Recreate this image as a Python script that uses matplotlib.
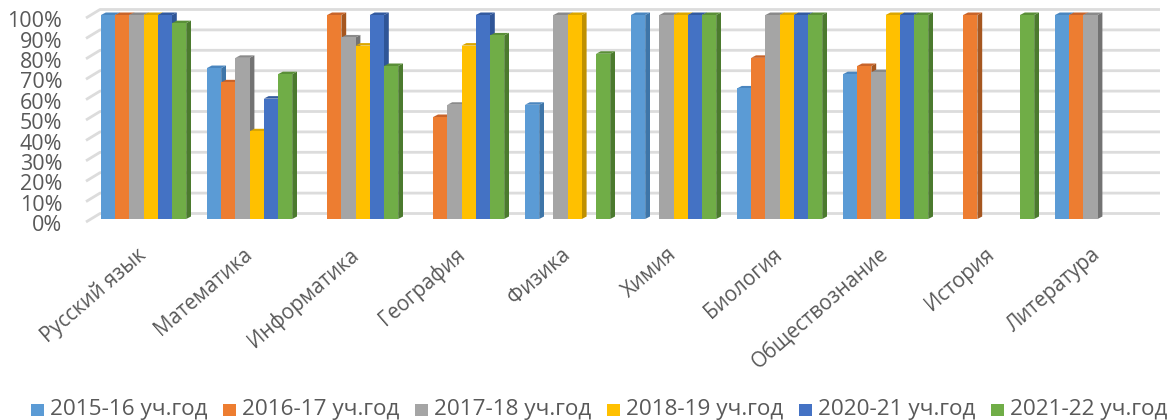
import matplotlib
matplotlib.use("Agg")
import matplotlib.pyplot as plt
from matplotlib.patches import Polygon, Rectangle
from matplotlib.transforms import ScaledTranslation
import numpy as np

categories = ["Русский язык", "Математика", "Информатика", "География", "Физика",
              "Химия", "Биология", "Обществознание", "История", "Литература"]
series_names = ["2015-16 уч.год", "2016-17 уч.год", "2017-18 уч.год",
                "2018-19 уч.год", "2020-21 уч.год", "2021-22 уч.год"]
s2015 = [100, 74, 0, 0, 56, 100, 64, 71, 0, 100]
s2016 = [100, 67, 100, 50, 0, 0, 79, 75, 100, 100]
s2017 = [100, 79, 89, 56, 100, 100, 100, 72, 0, 100]
s2018 = [100, 43, 85, 85, 100, 100, 100, 100, 0, 0]
s2020 = [100, 59, 100, 100, 0, 100, 100, 100, 0, 0]
s2021 = [96, 71, 75, 90, 81, 100, 100, 100, 100, 0]
series = [s2015, s2016, s2017, s2018, s2020, s2021]
colors = ["#5B9BD5", "#ED7D31", "#A5A5A5", "#FFC000", "#4472C4", "#70AD47"]
sides = ["#3E75A8", "#A5561F", "#737373", "#BF9000", "#2F5597", "#4B7A2E"]
tops = ["#4A86BF", "#C8642A", "#8A8A8A", "#DBA600", "#335A9F", "#5A8F38"]
yticks = list(range(0, 101, 10))

W, H = 1169, 420
fig = plt.figure(figsize=(W / 100, H / 100), dpi=100)
plt.rcParams["font.family"] = ["Open Sans", "DejaVu Sans"]
L, R, T, B = 86, 1160, 15, 219
ax = fig.add_axes([L / W, 1 - B / H, (R - L) / W, (B - T) / H])
ax.set_ylim(0, 100)
GROUP = 106.0
BARW = 14.2
x0 = (101 - L) / GROUP
ax.set_xlim(0, (R - L) / GROUP)
ax.patch.set_alpha(0)
for s in ax.spines.values():
    s.set_visible(False)
ax.tick_params(length=0)

px = 1 / GROUP
py = 100 / (B - T)
bw = BARW * px
for v in yticks:
    ax.plot([0, 14 * px, (R - L) * px], [v - 3 * py, v + 5.5 * py, v + 5.5 * py],
            color="#DCDCDC", lw=2.0, clip_on=False, zorder=1, solid_capstyle="butt")

dx, dy = 4.8 * px, 2.5 * py
for i in range(len(categories)):
    for j, vals in enumerate(series):
        v = vals[i]
        if v == 0:
            continue
        x = x0 + i + j * bw
        ax.add_patch(Polygon([(x + bw, 0), (x + bw + dx, dy), (x + bw + dx, v + dy), (x + bw, v)],
                             closed=True, fc=sides[j], ec="none", zorder=2 + j * 0.01, clip_on=False))
        ax.add_patch(Polygon([(x, v), (x + dx, v + dy), (x + bw + dx, v + dy), (x + bw, v)],
                             closed=True, fc=tops[j], ec="none", zorder=2 + j * 0.01, clip_on=False))
        ax.bar(x, v, width=bw, align="edge", color=colors[j], zorder=2 + j * 0.01 + 0.001, clip_on=False)

ax.set_yticks(yticks)
ax.set_yticklabels([f"{v}%" for v in yticks], fontsize=15.5, color="#595959")
ax.tick_params(axis="y", pad=17)
shift = ScaledTranslation(0, -3 / 72, fig.dpi_scale_trans)
for lab in ax.get_yticklabels():
    lab.set_transform(lab.get_transform() + shift)
ax.set_xticks([x0 + i + 3 * bw - 7 * px for i in range(len(categories))])
ax.set_xticklabels(categories, rotation=41, ha="right", rotation_mode="anchor",
                   fontsize=14.8, color="#595959")
ax.tick_params(axis="x", pad=18)

lx = [31, 223, 415, 607, 799, 991]
for xp, name, c in zip(lx, series_names, colors):
    fig.add_artist(Rectangle((xp / W, 1 - 416 / H), 13 / W, 12 / H, transform=fig.transFigure, fc=c, ec="none"))
    fig.text((xp + 19) / W, 1 - 410 / H, name, fontsize=16.2, color="#595959", va="center", ha="left")

fig.savefig("out.png", dpi=100)
